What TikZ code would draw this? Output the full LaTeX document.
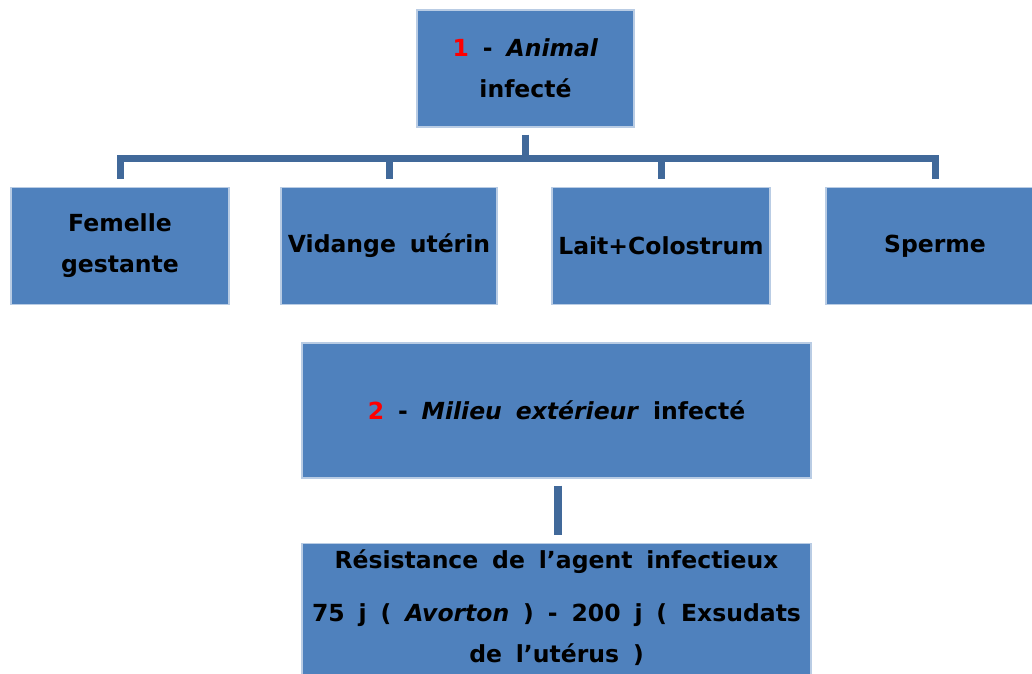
\documentclass[tikz,border=0pt]{standalone}
\usepackage{fontspec}
\setmainfont[WordSpace=1.7]{DejaVu Sans}
\usetikzlibrary{calc}
\definecolor{boxblue}{HTML}{4F81BD}
\definecolor{boxedge}{HTML}{B9CCE4}
\definecolor{linkblue}{HTML}{41699A}
\definecolor{numred}{HTML}{FF0000}
\newcommand{\lblfont}{\fontsize{23.5}{41}\selectfont\bfseries}
\begin{document}
\begin{tikzpicture}[x=1pt,y=-1pt,
  box/.style={draw=boxedge, line width=1.2pt, fill=boxblue, inner sep=0pt,
    align=center, font=\lblfont, text=black},
  conn/.style={draw=linkblue, line width=7pt}]
\useasboundingbox (0,0) rectangle (1032,673);
% top
\node[box, minimum width=217pt, minimum height=117pt] (top) at (525.5,68.5)
  {{\color{numred}1} - \textit{Animal}\\infecté};
% children
\node[box, minimum width=218pt, minimum height=117pt] (c1) at (120,246) {Femelle\\gestante};
\node[box, minimum width=216pt, minimum height=117pt] (c2) at (389,246) {Vidange utérin};
\node[box, minimum width=218pt, minimum height=117pt] (c3) at (661,246) {Lait+Colostrum};
\node[box, minimum width=218pt, minimum height=117pt] (c4) at (935,246) {Sperme};
% milieu
\node[box, minimum width=509pt, minimum height=135pt] (mil) at (556.5,410.5)
  {{\color{numred}2} - \textit{Milieu extérieur} infecté};
% resistance
\node[box, minimum width=509pt, minimum height=160pt, anchor=north] (res) at (556.5,543) {};
\node[font=\lblfont, align=center, inner sep=0pt, anchor=center] (restext) at (556.5,608)
  {Résistance de l’agent infectieux\\[12pt]75 j ( \textit{Avorton} ) - 200 j ( Exsudats\\de l’utérus )};
% connectors
\coordinate (bar) at ($(top.south)+(0,30.5)$);
\draw[conn] ($(top.south)+(0,7)$) -- (bar);
\draw[conn] ($(c1.north)+(0,-8)$) |- (bar) -| ($(c4.north)+(0,-8)$);
\draw[conn] ($(c2.north)+(0,-8)$) -- (c2.north |- bar);
\draw[conn] ($(c3.north)+(0,-8)$) -- (c3.north |- bar);
\draw[conn, line width=7.5pt] ($(mil.south)+(1.5,7)$) -- ($(res.north)+(1.5,-8)$);
\end{tikzpicture}
\end{document}
